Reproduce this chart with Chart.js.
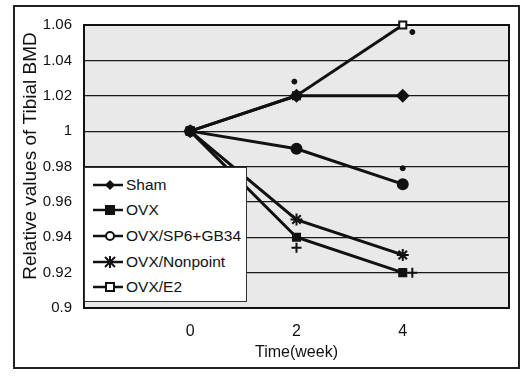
<!DOCTYPE html>
<html>
<head>
<meta charset="utf-8">
<script src="https://cdn.jsdelivr.net/npm/chart.js@4.4.1/dist/chart.umd.min.js"></script>
<style>
  html, body { margin: 0; padding: 0; background: #fff; }
  #wrap { position: relative; width: 523px; height: 377px; }
  #frame { position: absolute; left: 13px; top: 5px; width: 503px; height: 360px; border: 2px solid #222; }
  #box { position: absolute; left: 0; top: 0; width: 523px; height: 377px; }
  #legend {
    position: absolute; left: 84px; top: 167px; width: 163px; height: 135px;
    background: #fff; border: 1px solid #333; box-sizing: border-box; padding-top: 4px;
    font: 15.5px 'Liberation Sans', Arial, sans-serif; color: #111;
  }
  .row { display: flex; align-items: center; height: 25.6px; white-space: nowrap; }
  .row svg { flex: none; }
</style>
</head>
<body>
<div id="wrap">
  <div id="frame"></div>
  <div id="box"><canvas id="bmdChart"></canvas></div>
  <div id="legend"></div>
</div>
<script>
/* ── data ── */
const WEEKS     = [0, 2, 4];
const SHAM      = [1.00, 1.02, 1.02];
const OVX       = [1.00, 0.94, 0.92];
const SP6_GB34  = [1.00, 0.99, 0.97];
const NONPOINT  = [1.00, 0.95, 0.93];
const E2        = [1.00, 1.02, 1.06];

const SERIES_NAMES = ['Sham', 'OVX', 'OVX/SP6+GB34', 'OVX/Nonpoint', 'OVX/E2'];

// significance marks scattered next to the points
const SIG_DOT_X  = [1.96, 4.18, 4.00];
const SIG_DOT_Y  = [1.028, 1.056, 0.979];
const SIG_PLUS_X = [2.00, 4.18];
const SIG_PLUS_Y = [0.934, 0.92];

const Y_TICKS = [0.9, 0.92, 0.94, 0.96, 0.98, 1, 1.02, 1.04, 1.06];
const X_TICKS = [0, 2, 4];

const FONT = "'Liberation Sans', Arial, sans-serif";
const INK  = '#111';

const pts = (xs, ys) => xs.map((x, i) => ({ x, y: ys[i] }));

const STYLES = [
  { style: 'rectRot', radius: 5.5, fill: INK },
  { style: 'rect',    radius: 5,   fill: INK },
  { style: 'circle',  radius: 5,   fill: INK },
  { style: 'star',    radius: 6,   fill: INK },
  { style: 'rect',    radius: 5,   fill: '#fff' },
];
const VALUES = [SHAM, OVX, SP6_GB34, NONPOINT, E2];

const datasets = SERIES_NAMES.map((name, i) => ({
  label: name,
  data: pts(WEEKS, VALUES[i]),
  borderColor: INK,
  borderWidth: 3,
  pointStyle: STYLES[i].style,
  pointRadius: STYLES[i].radius,
  pointBackgroundColor: STYLES[i].fill,
  pointBorderColor: INK,
  pointBorderWidth: 2,
  tension: 0,
  clip: false,
}));

datasets.push({
  label: 'sigDot', data: pts(SIG_DOT_X, SIG_DOT_Y), showLine: false,
  pointStyle: 'circle', pointRadius: 2.5, pointBackgroundColor: INK, pointBorderColor: INK, clip: false,
});
datasets.push({
  label: 'sigPlus', data: pts(SIG_PLUS_X, SIG_PLUS_Y), showLine: false,
  pointStyle: 'cross', pointRadius: 5, pointBorderColor: INK, pointBorderWidth: 2, clip: false,
});

/* ── plot background + frame ── */
const plotArea = {
  id: 'plotArea',
  beforeDraw(chart) {
    const { ctx, chartArea: a } = chart;
    ctx.save();
    ctx.fillStyle = '#e9e9e9';
    ctx.fillRect(a.left, a.top, a.width, a.height);
    ctx.restore();
  },
  beforeDatasetsDraw(chart) {
    const { ctx, chartArea: a } = chart;
    ctx.save();
    ctx.strokeStyle = INK;
    ctx.lineWidth = 2;
    ctx.strokeRect(a.left, a.top, a.width, a.height);
    ctx.restore();
  }
};

new Chart(document.getElementById('bmdChart'), {
  type: 'line',
  data: { datasets },
  plugins: [plotArea],
  options: {
    responsive: true,
    maintainAspectRatio: false,
    animation: false,
    layout: { padding: { left: 0, top: 25, right: 14, bottom: 0 } },
    plugins: { legend: { display: false }, tooltip: { enabled: false } },
    scales: {
      x: {
        type: 'linear', min: -2, max: 6,
        afterFit: s => { s.height = 69; },
        afterBuildTicks: s => { s.ticks = X_TICKS.map(v => ({ value: v })); },
        grid: { display: false, drawTicks: false },
        border: { display: false },
        ticks: { color: INK, font: { family: FONT, size: 16 }, padding: 14, callback: v => String(v) },
        title: { display: true, text: 'Time(week)', color: INK, font: { family: FONT, size: 16 }, padding: { top: 0, bottom: 15 } }
      },
      y: {
        min: 0.9, max: 1.06,
        afterFit: s => { s.width = 84; },
        afterBuildTicks: s => { s.ticks = Y_TICKS.map(v => ({ value: v })); },
        grid: { color: '#1a1a1a', lineWidth: 1.2, drawTicks: false },
        border: { display: false },
        ticks: { color: INK, font: { family: FONT, size: 15 }, padding: 12, callback: v => String(+v.toFixed(2)) },
        title: {
          display: true, text: '\u00a0\u00a0\u00a0\u00a0Relative values of Tibial BMD',
          color: INK, font: { family: FONT, size: 19 }, padding: { top: 19, bottom: 0 }
        }
      }
    }
  }
});

/* ── legend box (sits on the plot like the original) ── */
function markerSvg(i) {
  const s = STYLES[i];
  let m = '';
  if (s.style === 'rectRot') m = '<polygon points="25,3 30,8 25,13 20,8" fill="#111"/>';
  else if (s.style === 'rect') m = `<rect x="21" y="4" width="8" height="8" fill="${s.fill}" stroke="#111" stroke-width="2"/>`;
  else if (s.style === 'circle') m = '<circle cx="25" cy="8" r="4" fill="#fff" stroke="#111" stroke-width="2"/>';
  else if (s.style === 'star') m = '<path d="M20,3 L30,13 M30,3 L20,13 M25,2 L25,14" stroke="#111" stroke-width="2"/>';
  return `<svg width="41" height="16" viewBox="0 0 41 16"><line x1="8" y1="8" x2="38" y2="8" stroke="#111" stroke-width="2.5"/>${m}</svg>`;
}
document.getElementById('legend').innerHTML = SERIES_NAMES
  .map((name, i) => `<div class="row">${markerSvg(i)}<span>${name}</span></div>`)
  .join('');
</script>
</body>
</html>
